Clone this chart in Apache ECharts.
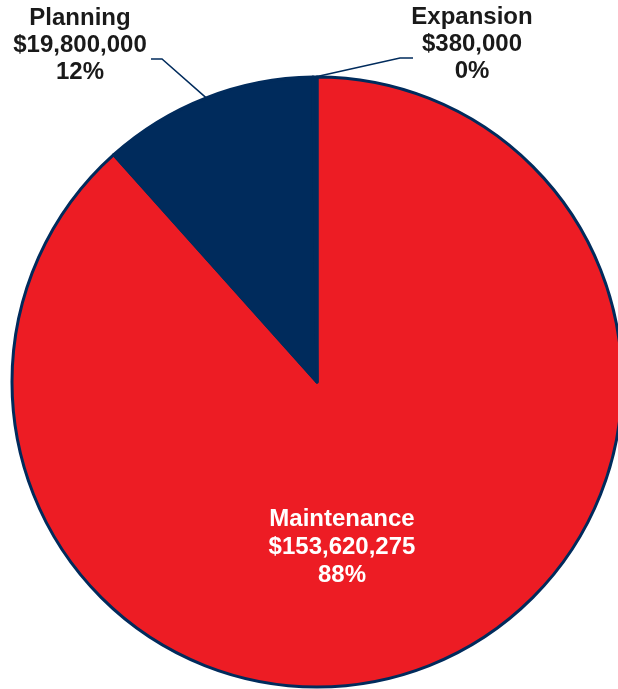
<!DOCTYPE html>
<html>
<head>
<meta charset="utf-8">
<script src="https://cdn.jsdelivr.net/npm/echarts@6/dist/echarts.min.js"></script>
<style>html,body{margin:0;padding:0;background:#fff}#c{width:618px;height:689px}</style>
</head>
<body>
<div id="c"></div>
<script>
var categories = ['Maintenance', 'Planning', 'Expansion'];
var values = [153620275, 19800000, 380000];
var percentLabels = ['88%', '12%', '0%'];
var colors = ['#ED1C24', '#002B5C', '#002B5C'];

var labelPos = [[342, 547], [80, 45], [472, 44]];
var lineEnds = [null, [[162, 59], [151, 59]], [[400, 58], [413, 58]]];

function money(v) {
  return '$' + v.toString().replace(/\B(?=(\d{3})+(?!\d))/g, ',');
}

var data = categories.map(function (c, i) {
  var inside = i === 0;
  return {
    name: c,
    value: values[i],
    itemStyle: { color: colors[i] },
    label: {
      position: inside ? 'inside' : 'outside',
      color: inside ? '#ffffff' : '#1a1a1a',
      lineHeight: inside ? 28 : 27
    },
    labelLine: { show: !inside }
  };
});

var chart = echarts.init(document.getElementById('c'), null, { renderer: 'canvas' });
chart.setOption({
  animation: false,
  series: [{
    type: 'pie',
    center: [317, 382],
    radius: 305,
    startAngle: 90,
    clockwise: true,
    avoidLabelOverlap: false,
    itemStyle: { borderColor: '#002B5C', borderWidth: 3 },
    label: {
      show: true,
      fontFamily: 'Liberation Sans, Arial, sans-serif',
      fontWeight: 'bold',
      fontSize: 24,
      align: 'center',
      formatter: function (p) {
        return p.name + '\n' + money(p.value) + '\n' + percentLabels[p.dataIndex];
      }
    },
    labelLine: {
      show: true,
      length: 20,
      length2: 10,
      lineStyle: { color: '#002B5C', width: 1.5 }
    },
    labelLayout: function (params) {
      var i = params.dataIndex;
      var p = labelPos[i];
      var res = { x: p[0], y: p[1], align: 'center', verticalAlign: 'middle' };
      if (lineEnds[i] && params.labelLinePoints) {
        res.labelLinePoints = [params.labelLinePoints[0], lineEnds[i][0], lineEnds[i][1]];
      }
      return res;
    },
    data: data
  }]
});
</script>
</body>
</html>
